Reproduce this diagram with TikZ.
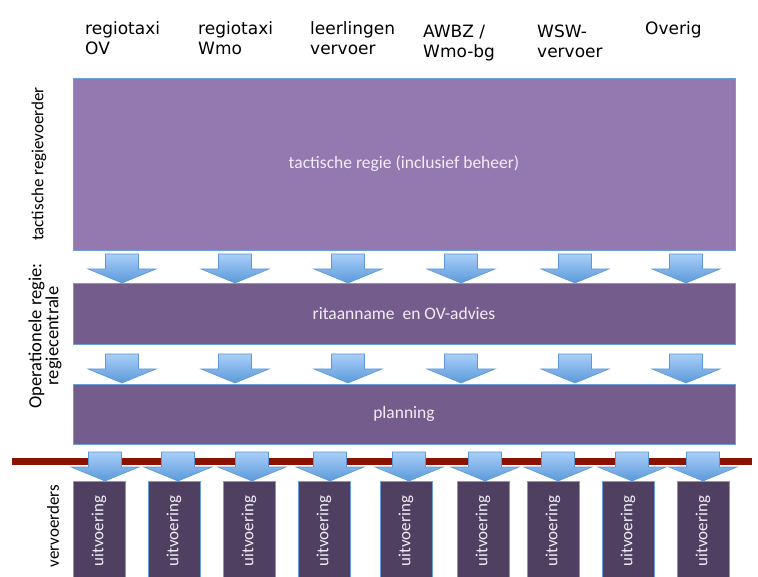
\documentclass[tikz,border=0pt]{standalone}
\usepackage{fontspec}
\setmainfont{Carlito}
\newfontfamily\kopfont{DejaVu Sans}

\definecolor{tactfill}{HTML}{9479B0}
\definecolor{operfill}{HTML}{745D8C}
\definecolor{uitvfill}{HTML}{4F4062}
\definecolor{boxedge}{HTML}{6A9FD8}
\definecolor{boxtext}{HTML}{F2EDF6}
\definecolor{arrtop}{HTML}{A9CEF8}
\definecolor{arrbot}{HTML}{5A9ADA}
\definecolor{arredge}{HTML}{5F97D2}
\definecolor{grens}{HTML}{8B1200}

\tikzset{
  blockarr/.pic={
    \shadedraw [top color = arrtop, bottom color = arrbot, draw = arredge,
                line width = 0.6pt, line join = miter]
      (-16.5, 0) -- (16.5, 0) -- (16.5, 15) -- (34, 15) -- (0, 29)
      -- (-34, 15) -- (-16.5, 15) -- cycle;
  }
}

\begin{document}
\begin{tikzpicture}[x = 1pt, y = -1pt,
    regiebox/.style = {draw = boxedge, line width = 0.8pt, text = boxtext,
                       inner sep = 0pt, font = \fontsize{17.5}{20}\selectfont},
    uitvbox/.style  = {regiebox, fill = uitvfill, rotate = 90,
                       minimum width = 100pt, minimum height = 52pt,
                       font = \fontsize{17}{20}\selectfont},
    kop/.style      = {anchor = base west, align = left, inner sep = 0pt,
                       font = \kopfont\fontsize{17}{20}\selectfont},
    zijlabel/.style = {rotate = 90, align = center, inner sep = 0pt,
                       font = \fontsize{17}{19}\selectfont}]

    \useasboundingbox (0, 0) rectangle (758, 577);

    % kolomkoppen (base = laatste regel)
    \node [kop] (kop1) at (85, 55)  {regiotaxi\\OV};
    \node [kop] (kop2) at (198, 55) {regiotaxi\\Wmo};
    \node [kop] (kop3) at (310, 55) {leerlingen\\vervoer};
    \node [kop] (kop4) at (423, 58) {AWBZ /\\Wmo-bg};
    \node [kop] (kop5) at (537, 58) {WSW-\\vervoer};
    \node [kop] (kop6) at (645, 35) {Overig};

    % regielagen
    \node [regiebox, fill = tactfill, minimum width = 662pt,
           minimum height = 172pt] (tactisch) at (404, 164)
          {tactische regie (inclusief beheer)};
    \node [regiebox, fill = operfill, minimum width = 662pt,
           minimum height = 61pt] (ritaanname) at (404, 313.5)
          {ritaanname\ \ en OV-advies};
    \node [regiebox, fill = operfill, minimum width = 662pt,
           minimum height = 60pt] (planning) at (404, 414) {planning};

    % zijlabels
    \node [zijlabel] (lbltact) at (39, 164) {tactische regievoerder};
    \node [zijlabel, font = \fontsize{18.5}{16}\selectfont] (lbloper)
          at (45, 336) {Operationele regie:\\regiecentrale};
    \node [zijlabel] (lblvervoer) at (53, 526) {vervoerders};

    % grens regie / vervoerders
    \draw [grens, line width = 7pt] (12, 461.5) -- (752, 461.5);

    % pijlen tussen de lagen
    \foreach \ax in {122, 235, 348, 461, 575, 686} {
        \pic at (\ax, 254) {blockarr}; % tactisch -> ritaanname
        \pic at (\ax, 354) {blockarr}; % ritaanname -> planning
    }
    \foreach \ax in {105, 178, 252, 330, 409, 485, 558, 632, 703}
        \pic at (\ax, 452) {blockarr}; % planning -> uitvoering

    % uitvoering per vervoerder
    \foreach \xl [count = \i] in {73, 148, 223, 298, 380, 457, 527, 602, 677}
        \node [uitvbox] (uitv\i) at (\xl + 26, 531) {uitvoering};
\end{tikzpicture}
\end{document}
